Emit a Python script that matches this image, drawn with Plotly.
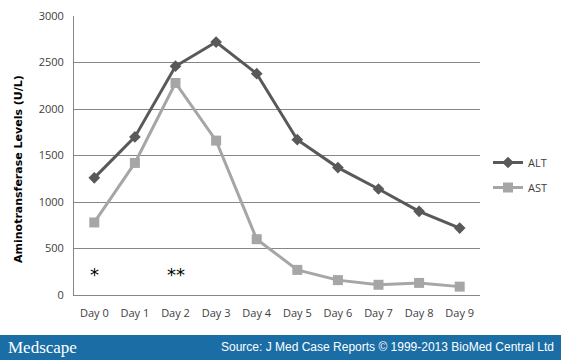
import plotly.graph_objects as go

days = ["Day 0", "Day 1", "Day 2", "Day 3", "Day 4", "Day 5", "Day 6", "Day 7", "Day 8", "Day 9"]
alt = [1260, 1700, 2460, 2720, 2380, 1670, 1370, 1140, 900, 720]
ast = [780, 1420, 2280, 1660, 600, 270, 160, 110, 130, 90]
y_ticks = [0, 500, 1000, 1500, 2000, 2500, 3000]
star_days = ["Day 0", "Day 2"]
star_labels = ["*", "**"]
star_level = 250

W, H = 561, 360
L, R, T, B = 74, 81, 16, 65
ph = H - T - B
pw = W - L - R

def py(pix):
    return (H - B - pix) / ph

def px(pix):
    return (pix - L) / pw

fig = go.Figure()
fig.add_trace(go.Scatter(x=days, y=alt, name="ALT", mode="lines+markers", legendgroup="a",
                         line=dict(color="#595959", width=3),
                         marker=dict(symbol="diamond", size=9, color="#595959")))
fig.add_trace(go.Scatter(x=days, y=ast, name="AST", mode="lines+markers", legendgroup="b",
                         line=dict(color="#a6a6a6", width=3),
                         marker=dict(symbol="square", size=10, color="#a6a6a6")))

for d, s in zip(star_days, star_labels):
    fig.add_annotation(x=d, y=star_level, text=s, showarrow=False,
                       font=dict(family="DejaVu Sans", size=18, color="#000000"),
                       xanchor="center", yanchor="middle", yshift=-3)

fig.add_shape(type="rect", xref="paper", yref="paper", x0=px(0), x1=px(W),
              y0=py(H + 2), y1=py(335), fillcolor="#1a6ea5", line=dict(width=0), layer="below")
fig.add_annotation(xref="paper", yref="paper", x=px(6), y=py(347),
                   text="Medscape", showarrow=False, xanchor="left", yanchor="middle",
                   font=dict(family="Liberation Serif", size=17, color="#ffffff"))
fig.add_annotation(xref="paper", yref="paper", x=px(556), y=py(347),
                   text="Source: J Med Case Reports \u00a9 1999-2013 BioMed Central Ltd", showarrow=False,
                   xanchor="right", yanchor="middle",
                   font=dict(family="Liberation Sans", size=12, color="#ffffff"))
fig.add_annotation(xref="paper", yref="paper", x=px(18), y=py(169),
                   text="<b>Aminotransferase Levels (U/L)</b>", showarrow=False, textangle=-90,
                   xanchor="center", yanchor="middle",
                   font=dict(family="DejaVu Sans", size=11, color="#000000"))

fig.update_layout(
    width=W, height=H,
    margin=dict(l=L, r=R, t=T, b=B, autoexpand=False),
    paper_bgcolor="#ffffff", plot_bgcolor="#ffffff",
    showlegend=True,
    legend=dict(x=px(488), y=py(148), xanchor="left", yanchor="top",
                font=dict(family="Open Sans", size=11, color="#404040"),
                itemwidth=30, tracegroupgap=6, bgcolor="rgba(0,0,0,0)"),
    xaxis=dict(type="category", showgrid=False, showline=True, linecolor="#868686", linewidth=1,
               ticks="", ticklabelstandoff=8, tickfont=dict(family="Open Sans", size=11, color="#404040"),
               range=[-0.5, 9.5], fixedrange=True, automargin=False),
    yaxis=dict(range=[0, 3000], tickvals=y_ticks, showgrid=True, gridcolor="#868686", gridwidth=1,
               showline=True, linecolor="#868686", linewidth=1, zeroline=False,
               ticks="", ticklabelstandoff=7, automargin=False,
               tickfont=dict(family="Open Sans", size=11, color="#404040")),
)

fig.write_html("out.html", config={"displayModeBar": False},
               post_script="document.body.style.margin='0';document.body.style.overflow='hidden';")
